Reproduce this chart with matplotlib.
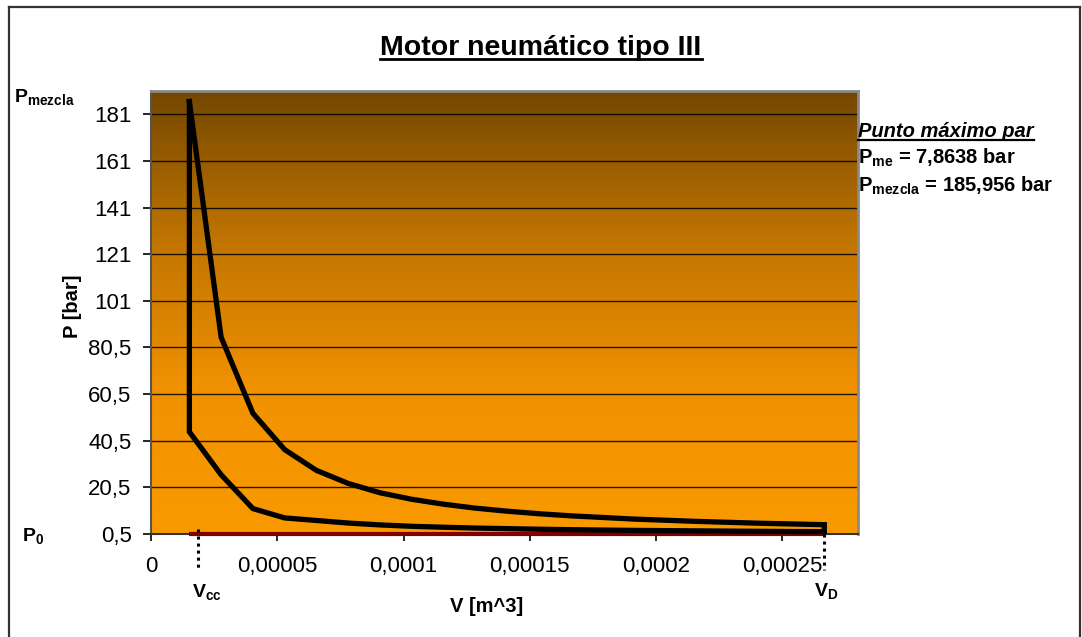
import numpy as np
import matplotlib
matplotlib.use('Agg')
import matplotlib.pyplot as plt
from matplotlib.lines import Line2D
from matplotlib.colors import LinearSegmentedColormap
import matplotlib.transforms as mtransforms

plt.rcParams['font.family'] = ['Liberation Sans', 'DejaVu Sans']
plt.rcParams['mathtext.fontset'] = 'custom'
plt.rcParams['mathtext.rm'] = 'Liberation Sans'
plt.rcParams['mathtext.bf'] = 'Liberation Sans:bold'
plt.rcParams['mathtext.it'] = 'Liberation Sans:italic'

# ---------------- data ----------------
title = "Motor neumático tipo III"
x_label = "V [m^3]"
y_label = "P [bar]"

volumes = [1.52e-5, 2.777e-5, 4.035e-5, 5.292e-5, 6.549e-5, 7.807e-5, 9.064e-5,
           1.0321e-4, 1.1578e-4, 1.2836e-4, 1.4093e-4, 1.5350e-4, 1.6608e-4,
           1.7865e-4, 1.9122e-4, 2.0380e-4, 2.1637e-4, 2.2894e-4, 2.4151e-4,
           2.5409e-4, 2.6666e-4]
p_expansion = [185.96, 84.9, 52.3, 36.7, 27.8, 22.2, 18.2, 15.4, 13.3, 11.6, 10.3,
               9.2, 8.3, 7.6, 6.9, 6.4, 5.9, 5.5, 5.1, 4.8, 4.5]
p_compression = [44.3, 25.9, 11.4, 7.4, 6.3, 5.2, 4.4, 3.8, 3.4, 3.05, 2.8,
                 2.55, 2.35, 2.2, 2.05, 1.95, 1.85, 1.75, 1.65, 1.55, 1.5]
p0_line_v = [1.52e-5, 2.6666e-4]
p0_line_p = [0.5, 0.5]
v_cc_mark = 1.88e-5
v_d_mark = 2.6666e-4

y_ticks = [0.5, 20.5, 40.5, 60.5, 80.5, 100.5, 120.5, 140.5, 160.5, 180.5]
y_tick_labels = ['0,5', '20,5', '40,5', '60,5', '80,5', '101', '121', '141', '161', '181']
x_ticks = [0, 5e-5, 1e-4, 1.5e-4, 2e-4, 2.5e-4]
x_tick_labels = ['0', '0,00005', '0,0001', '0,00015', '0,0002', '0,00025']

annot_title = "Punto máximo par"
annot_lines = [r'$\mathbf{P}_{\mathbf{me}}$ = 7,8638 bar',
               r'$\mathbf{P}_{\mathbf{mezcla}}$ = 185,956 bar']

# ---------------- figure ----------------
W, H = 1082, 637
fig = plt.figure(figsize=(W / 100, H / 100), dpi=100)
fig.patch.set_facecolor('white')

def fx(px):
    return px / W

def fy(py):
    return 1 - py / H

L, R, T, B = 151, 858, 91, 534
ax = fig.add_axes([fx(L), fy(B), fx(R) - fx(L), fy(T) - fy(B)])

# gradient background
cmap = LinearSegmentedColormap.from_list('bg', ['#FA9A00', '#F09100', '#C07400', '#744700'],
                                         N=256)
grad = np.linspace(0, 1, 256).reshape(-1, 1)
ax.imshow(grad, cmap=cmap, extent=[0, 1, 0, 1], transform=ax.transAxes,
          aspect='auto', origin='lower', zorder=0, interpolation='bicubic')

ax.set_xlim(0, 0.00028)
ax.set_ylim(0.5, 190.5)

ax.set_yticks(y_ticks)
ax.set_yticklabels(y_tick_labels)
ax.set_xticks(x_ticks)
ax.set_xticklabels(x_tick_labels)
ax.tick_params(axis='both', direction='out', width=1.2, colors='black',
               labelsize=16)
ax.tick_params(axis='x', length=5, pad=11)
ax.tick_params(axis='y', length=6, pad=8)

ax.set_axisbelow(True)
ax.yaxis.grid(True, color='black', lw=1.0, alpha=0.85)

for s in ['top', 'right']:
    ax.spines[s].set_color('#8a8a8a')
    ax.spines[s].set_linewidth(2.0)
ax.spines['left'].set_color('#555555')
ax.spines['left'].set_linewidth(1.5)
ax.spines['bottom'].set_color('#333333')
ax.spines['bottom'].set_linewidth(1.5)

# P0 line
ax.plot(p0_line_v, p0_line_p, color='#800000', lw=3.0, solid_capstyle='butt', zorder=3,
        clip_on=False)

# cycle
xs = volumes + volumes[::-1] + [volumes[0]]
ys = p_expansion + p_compression[::-1] + [p_expansion[0]]
ax.plot(xs, ys, color='black', lw=3.8, solid_joinstyle='miter', zorder=4, clip_on=False)

# dotted markers below axis
trans = mtransforms.blended_transform_factory(ax.transData, ax.transAxes)
ax.plot([v_cc_mark, v_cc_mark], [0.012, -0.082], transform=trans, color='black',
        lw=2.2, linestyle=(0, (1, 1.3)), clip_on=False, zorder=5)
ax.plot([v_d_mark, v_d_mark], [0.0, -0.082], transform=trans, color='black',
        lw=2.2, linestyle=(0, (1, 1.3)), clip_on=False, zorder=5)

# axis labels
fig.text(fx(73), fy(306), y_label, rotation=90, ha='center', va='center',
         fontsize=14.5, fontweight='bold')
fig.text(fx(487), fy(606), x_label, ha='center', va='center',
         fontsize=14.5, fontweight='bold')

# title
t_title = fig.text(fx(541), fy(55), title, ha='center', va='baseline',
                   fontsize=20.5, fontweight='bold')

# side labels
fig.text(fx(14), fy(102), r'$\mathbf{P}_{\mathbf{mezcla}}$', ha='left', va='baseline',
         fontsize=14)
fig.text(fx(22), fy(541), r'$\mathbf{P}_{\mathbf{0}}$', ha='left', va='baseline',
         fontsize=14)
fig.text(fx(192), fy(597), r'$\mathbf{V}_{\mathbf{cc}}$', ha='left', va='baseline',
         fontsize=14)
fig.text(fx(814), fy(596), r'$\mathbf{V}_{\mathbf{D}}$', ha='left', va='baseline',
         fontsize=14)

# annotation
t_annot = fig.text(fx(858), fy(137), annot_title, ha='left', va='baseline',
                   fontsize=14.5, fontweight='bold', fontstyle='italic')
fig.text(fx(858), fy(164), annot_lines[0], ha='left', va='baseline',
         fontsize=14.5, fontweight='bold')
fig.text(fx(858), fy(192), annot_lines[1], ha='left', va='baseline',
         fontsize=14.5, fontweight='bold')

# outer border (left, top, right)
bc = '#333333'
fig.add_artist(Line2D([fx(8.5), fx(8.5)], [fy(7), 0], transform=fig.transFigure,
                      color=bc, lw=1.6))
fig.add_artist(Line2D([fx(8.5), fx(1079.5)], [fy(7), fy(7)], transform=fig.transFigure,
                      color=bc, lw=1.6))
fig.add_artist(Line2D([fx(1079.5), fx(1079.5)], [fy(7), 0], transform=fig.transFigure,
                      color=bc, lw=1.6))

# underlines
fig.canvas.draw()
renderer = fig.canvas.get_renderer()
for t, off, lw in [(t_title, 4, 2.0), (t_annot, 3, 1.6)]:
    bb = t.get_window_extent(renderer=renderer)
    x0, x1 = bb.x0 / W, bb.x1 / W
    ybase = t.get_position()[1] - off / H
    fig.add_artist(Line2D([x0, x1], [ybase, ybase], transform=fig.transFigure,
                          color='black', lw=lw))

fig.savefig('out.png', dpi=100)
